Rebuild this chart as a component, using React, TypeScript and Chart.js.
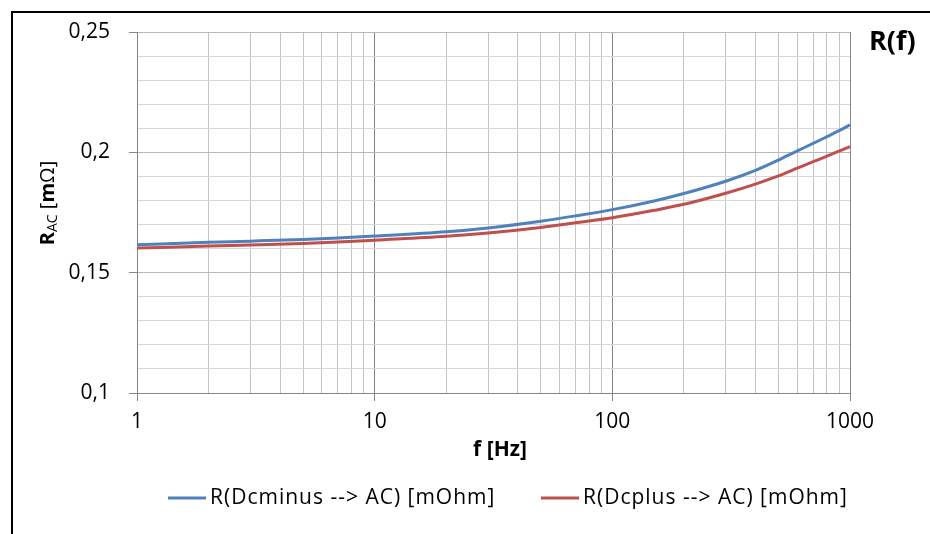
import React, { useEffect, useRef } from "react";
import { Chart, registerables } from "chart.js";

Chart.register(...registerables);

// ---- data ----
const frequencies = [1, 2, 3, 5, 7, 10, 20, 30, 50, 70, 100, 150, 200, 300, 400, 500, 600, 700, 800, 900, 1000];
const rDcMinus = [0.1616, 0.1626, 0.1631, 0.1638, 0.1644, 0.1652, 0.1670, 0.1686, 0.1714, 0.1736, 0.1762, 0.1798, 0.1829, 0.1880, 0.1925, 0.1968, 0.2006, 0.2037, 0.2065, 0.2090, 0.2114];
const rDcPlus = [0.1602, 0.1611, 0.1615, 0.1621, 0.1627, 0.1635, 0.1651, 0.1665, 0.1688, 0.1707, 0.1728, 0.1759, 0.1784, 0.1830, 0.1868, 0.1902, 0.1934, 0.1961, 0.1984, 0.2005, 0.2024];
const seriesLabels = ["R(Dcminus --> AC) [mOhm]", "R(Dcplus --> AC) [mOhm]"];
const xTickLabels = ["1", "10", "100", "1000"];
const yTickLabels = ["0,1", "0,15", "0,2", "0,25"];
const chartTitle = "R(f)";
const xTitle = "f [Hz]";

const FONT = "'Open Sans'";
const BLUE = "#4F81BD";
const RED = "#C0504D";

const isDecade = (v: number) => xTickLabels.includes(String(Math.round(v)));
const yLabelOf = (v: number) => String(Math.round(v * 100) / 100).replace(".", ",");
const isYMajor = (v: number) => yTickLabels.includes(yLabelOf(v));

const decorations = {
  id: "decorations",
  afterDraw(chart: any) {
    const ctx = chart.ctx;
    ctx.save();
    // outer frame
    ctx.strokeStyle = "#000";
    ctx.lineWidth = 2;
    ctx.beginPath();
    ctx.moveTo(12, 540);
    ctx.lineTo(12, 12);
    ctx.lineTo(940, 12);
    ctx.stroke();

    // title
    ctx.fillStyle = "#000";
    ctx.font = `bold 27px ${FONT}`;
    ctx.textAlign = "left";
    ctx.textBaseline = "middle";
    ctx.fillText(chartTitle, 869, 42);

    // x title
    ctx.font = `bold 21px ${FONT}`;
    ctx.textAlign = "center";
    ctx.fillText(xTitle, 500, 450);

    // y title with subscript, rotated
    ctx.save();
    ctx.translate(48, 203);
    ctx.rotate(-Math.PI / 2);
    const parts = [
      { t: "R", f: `bold 20px ${FONT}`, dy: 0 },
      { t: "AC", f: `14px ${FONT}`, dy: 5 },
      { t: " [", f: `20px ${FONT}`, dy: 0 },
      { t: "m", f: `bold 20px ${FONT}`, dy: 0 },
      { t: "\u03A9]", f: `20px ${FONT}`, dy: 0 },
    ];
    let total = 0;
    for (const p of parts) {
      ctx.font = p.f;
      total += ctx.measureText(p.t).width;
    }
    let x = -total / 2;
    ctx.textAlign = "left";
    for (const p of parts) {
      ctx.font = p.f;
      ctx.fillText(p.t, x, p.dy);
      x += ctx.measureText(p.t).width;
    }
    ctx.restore();

    // legend
    const legendY = 498;
    const items = [
      { x: 168, color: BLUE, label: chart.data.datasets[0].label },
      { x: 541, color: RED, label: chart.data.datasets[1].label },
    ];
    ctx.font = `21px ${FONT}`;
    ctx.textAlign = "left";
    (ctx as any).letterSpacing = "1px";
    for (const it of items) {
      ctx.strokeStyle = it.color;
      ctx.lineWidth = 3;
      ctx.beginPath();
      ctx.moveTo(it.x, legendY);
      ctx.lineTo(it.x + 38, legendY);
      ctx.stroke();
      ctx.fillStyle = "#000";
      ctx.fillText(it.label, it.x + 42, legendY);
    }
    (ctx as any).letterSpacing = "0px";
    ctx.restore();
  },
};

export default function App() {
  const ref = useRef<HTMLCanvasElement>(null);
  useEffect(() => {
    if (!ref.current) return;
    const chart = new Chart(ref.current, {
      type: "line",
      data: {
        datasets: [
          {
            label: seriesLabels[0],
            data: frequencies.map((f, i) => ({ x: f, y: rDcMinus[i] })),
            borderColor: BLUE,
            backgroundColor: BLUE,
            borderWidth: 3,
            pointRadius: 0,
            cubicInterpolationMode: "monotone",
          },
          {
            label: seriesLabels[1],
            data: frequencies.map((f, i) => ({ x: f, y: rDcPlus[i] })),
            borderColor: RED,
            backgroundColor: RED,
            borderWidth: 3,
            pointRadius: 0,
            cubicInterpolationMode: "monotone",
          },
        ],
      },
      options: {
        animation: false,
        responsive: false,
        layout: { padding: { top: 32, right: 80, left: 0, bottom: 0 } },
        plugins: { legend: { display: false }, tooltip: { enabled: false } },
        scales: {
          x: {
            type: "logarithmic",
            min: 1,
            max: 1000,
            afterBuildTicks: (scale: any) => {
              const ticks: any[] = [];
              for (let d = 1; d < 1000; d *= 10) {
                for (let k = 1; k <= 9; k++) ticks.push({ value: k * d });
              }
              ticks.push({ value: 1000 });
              scale.ticks = ticks;
            },
            afterFit: (scale: any) => {
              scale.height = 141;
            },
            ticks: {
              autoSkip: false,
              maxRotation: 0,
              padding: 8,
              color: "#000",
              font: { family: FONT, size: 21 },
              callback: (v: any) => (isDecade(Number(v)) ? String(Math.round(Number(v))) : ""),
            },
            grid: {
              color: (c: any) => (isDecade(c.tick.value) ? "#868686" : "#c4c4c4"),
              tickColor: (c: any) => (isDecade(c.tick.value) ? "#868686" : "rgba(0,0,0,0)"),
              tickLength: 8,
              lineWidth: 1,
            },
            border: { color: "#868686" },
          },
          y: {
            type: "linear",
            min: 0.1,
            max: 0.25,
            afterBuildTicks: (scale: any) => {
              const ticks: any[] = [];
              for (let k = 10; k <= 25; k++) ticks.push({ value: k / 100 });
              scale.ticks = ticks;
            },
            afterFit: (scale: any) => {
              scale.width = 137;
            },
            ticks: {
              autoSkip: false,
              padding: 19,
              color: "#000",
              font: { family: FONT, size: 21 },
              callback: (v: any) => (isYMajor(Number(v)) ? yLabelOf(Number(v)) : ""),
            },
            grid: {
              color: (c: any) => (isYMajor(c.tick.value) ? "#b8b8b8" : "#d6d6d6"),
              tickColor: (c: any) => (isYMajor(c.tick.value) ? "#868686" : "rgba(0,0,0,0)"),
              tickLength: 8,
              lineWidth: 1,
            },
            border: { color: "#868686" },
          },
        },
      },
      plugins: [decorations],
    });
    return () => chart.destroy();
  }, []);
  return (
    <div style={{ position: "absolute", left: 0, top: 0, width: 930, height: 534, background: "#fff" }}>
      <canvas ref={ref} width={930} height={534} style={{ display: "block" }} />
    </div>
  );
}
